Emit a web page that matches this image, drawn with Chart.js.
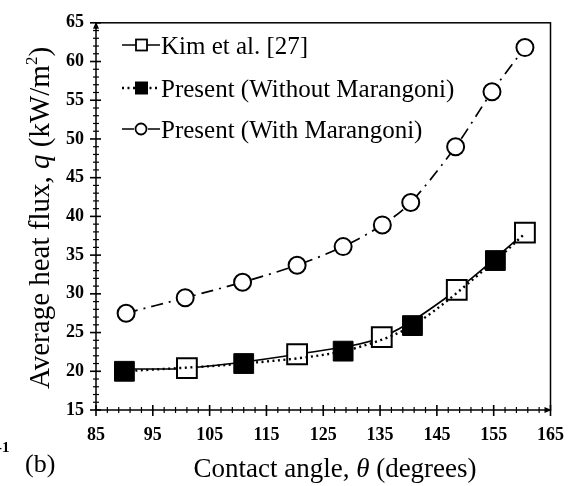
<!DOCTYPE html>
<html>
<head>
<meta charset="utf-8">
<script src="https://cdn.jsdelivr.net/npm/chart.js@4/dist/chart.umd.min.js"></script>
<style>
  html, body { margin: 0; padding: 0; background: #fff; }
  canvas { display: block; }
</style>
</head>
<body>
<canvas id="myChart" width="579" height="486"></canvas>
<script>
// datos
const kimX = [90, 101, 120.4, 135.3, 148.5, 160.5];
const kimY = [20.3, 20.4, 22.2, 24.4, 30.5, 37.9];

const sinMarX = [90, 111, 128.5, 140.7, 155.3, 160.5];
const sinMarY = [20.0, 21.0, 22.6, 25.9, 34.3, 37.8];

const conMarX = [90.3, 100.7, 110.8, 120.4, 128.5, 135.4, 140.4, 148.3, 154.7, 160.5];
const conMarY = [27.5, 29.5, 31.5, 33.7, 36.1, 38.9, 41.8, 49.0, 56.1, 61.8];

const xTicks = [85, 95, 105, 115, 125, 135, 145, 155, 165];
const yTicks = [15, 20, 25, 30, 35, 40, 45, 50, 55, 60, 65];

const etiquetas = ["Kim et al. [27]", "Present (Without Marangoni)", "Present (With Marangoni)"];

const SERIF = "'Liberation Serif', 'Times New Roman', serif";

function puntos(xs, ys) {
    return xs.map((x, i) => ({ x: x, y: ys[i] }));
}

// texto con partes de distinto estilo
function textoMixto(ctx, partes, x, y) {
    let total = 0;
    partes.forEach(p => { ctx.font = p.font; total += ctx.measureText(p.t).width; });
    let cx = x - total / 2;
    partes.forEach(p => {
        ctx.font = p.font;
        ctx.fillText(p.t, cx, y + (p.dy || 0));
        cx += ctx.measureText(p.t).width;
    });
}

const extras = {
    id: "extras",
    beforeDatasetsDraw(chart) {
        const ctx = chart.ctx;
        const a = chart.chartArea;
        const sx = chart.scales.x;
        const sy = chart.scales.y;
        ctx.save();
        ctx.strokeStyle = "#000";
        ctx.lineWidth = 1.5;
        // marco
        ctx.strokeRect(a.left, a.top, a.right - a.left, a.bottom - a.top);

        // ticks eje x
        for (let v = 85; v <= 165; v += 2) {
            const px = sx.getPixelForValue(v);
            const mayor = (v - 85) % 10 === 0;
            ctx.beginPath();
            ctx.lineWidth = mayor ? 1.6 : 1.2;
            ctx.moveTo(px, a.bottom - (mayor ? 5 : 3));
            ctx.lineTo(px, a.bottom + (mayor ? 6 : 3));
            ctx.stroke();
        }
        // ticks eje y
        for (let v = 15; v <= 65; v += 1) {
            const py = sy.getPixelForValue(v);
            const mayor = v % 5 === 0;
            ctx.beginPath();
            ctx.lineWidth = mayor ? 1.6 : 1.2;
            ctx.moveTo(a.left - (mayor ? 6 : 3), py);
            ctx.lineTo(a.left + (mayor ? 5 : 3), py);
            ctx.stroke();
        }
        // flechas
        ctx.fillStyle = "#000";
        ctx.beginPath();
        ctx.moveTo(a.right + 1, a.bottom);
        ctx.lineTo(a.right - 6, a.bottom - 3);
        ctx.lineTo(a.right - 6, a.bottom + 3);
        ctx.closePath();
        ctx.fill();
        ctx.beginPath();
        ctx.moveTo(a.left, a.top - 1);
        ctx.lineTo(a.left - 3, a.top + 6);
        ctx.lineTo(a.left + 3, a.top + 6);
        ctx.closePath();
        ctx.fill();
        ctx.restore();
    },
    afterDraw(chart) {
        const ctx = chart.ctx;
        ctx.save();
        ctx.fillStyle = "#000";
        ctx.strokeStyle = "#000";
        ctx.textBaseline = "alphabetic";

        // leyenda
        const filas = [45, 88, 129];
        const estilos = chart.data.datasets;
        filas.forEach((fy, i) => {
            const ds = estilos[i];
            ctx.beginPath();
            ctx.lineWidth = ds.borderWidth;
            ctx.setLineDash(ds.borderDash || []);
            ctx.moveTo(122, fy);
            ctx.lineTo(160, fy);
            ctx.stroke();
            ctx.setLineDash([]);
            ctx.lineWidth = 1.8;
            if (i === 0) {
                ctx.fillStyle = "#fff";
                ctx.fillRect(136, fy - 5.5, 11, 11);
                ctx.strokeRect(136, fy - 5.5, 11, 11);
            } else if (i === 1) {
                ctx.fillStyle = "#000";
                ctx.fillRect(135, fy - 6.5, 13, 13);
            } else {
                ctx.fillStyle = "#fff";
                ctx.beginPath();
                ctx.arc(141, fy, 5.5, 0, Math.PI * 2);
                ctx.fill();
                ctx.stroke();
            }
            ctx.fillStyle = "#000";
            ctx.font = "25px " + SERIF;
            ctx.textAlign = "left";
            ctx.fillText(etiquetas[i], 161, fy + 9);
        });

        // titulos de ejes
        ctx.textAlign = "left";
        const reg = "27px " + SERIF;
        const ita = "italic 27px " + SERIF;
        textoMixto(ctx, [
            { t: "Contact angle, ", font: reg },
            { t: "\u03B8", font: ita },
            { t: " (degrees)", font: reg }
        ], 335, 477);

        const regY = "29px " + SERIF;
        const itaY = "italic 29px " + SERIF;
        ctx.save();
        ctx.translate(49, 218);
        ctx.rotate(-Math.PI / 2);
        textoMixto(ctx, [
            { t: "Average heat flux, ", font: regY },
            { t: "q", font: itaY },
            { t: " (kW/m", font: regY },
            { t: "2", font: "17px " + SERIF, dy: -12 },
            { t: ")", font: regY }
        ], 0, 0);
        ctx.restore();

        ctx.font = "26px " + SERIF;
        ctx.fillText("(b)", 25, 472);
        ctx.font = "bold 15px " + SERIF;
        ctx.fillText("-1", -3, 452);
        ctx.restore();
    }
};

const data = {
    datasets: [
        {
            label: etiquetas[0],
            data: puntos(kimX, kimY),
            borderColor: "#000",
            borderWidth: 1.6,
            backgroundColor: "#fff",
            pointStyle: "rect",
            pointRadius: [0, 14, 14, 14, 14, 14],
            pointBorderWidth: 2,
            pointBackgroundColor: "#fff",
            pointBorderColor: "#000",
            tension: 0.3,
            order: 2
        },
        {
            label: etiquetas[1],
            data: puntos(sinMarX, sinMarY),
            borderColor: "#000",
            borderWidth: 2.4,
            borderDash: [2, 3.5],
            pointStyle: "rect",
            pointRadius: [14, 14, 14, 14, 14, 0],
            pointBorderWidth: 1,
            pointBackgroundColor: "#000",
            pointBorderColor: "#000",
            tension: 0.3,
            order: 1
        },
        {
            label: etiquetas[2],
            data: puntos(conMarX, conMarY),
            borderColor: "#000",
            borderWidth: 1.7,
            borderDash: [12, 6, 2, 6],
            pointStyle: "circle",
            pointRadius: 8.5,
            pointBorderWidth: 2,
            pointBackgroundColor: "#fff",
            pointBorderColor: "#000",
            tension: 0.3,
            order: 3
        }
    ]
};

const config = {
    type: "line",
    data,
    options: {
        responsive: false,
        animation: false,
        events: [],
        layout: { padding: { left: 0, top: 20, right: 21, bottom: 0 } },
        plugins: { legend: { display: false }, tooltip: { enabled: false } },
        scales: {
            x: {
                type: "linear",
                min: 85,
                max: 165,
                afterFit(scale) { scale.height = 76; },
                afterBuildTicks(scale) { scale.ticks = xTicks.map(v => ({ value: v })); },
                grid: { display: false, drawTicks: false },
                border: { display: false },
                ticks: {
                    padding: 15,
                    color: "#000",
                    font: { family: SERIF, size: 18, weight: "bold" }
                }
            },
            y: {
                min: 15,
                max: 65,
                afterFit(scale) { scale.width = 96; },
                afterBuildTicks(scale) { scale.ticks = yTicks.map(v => ({ value: v })); },
                grid: { display: false, drawTicks: false },
                border: { display: false },
                ticks: {
                    padding: 12,
                    color: "#000",
                    font: { family: SERIF, size: 18, weight: "bold" }
                }
            }
        }
    },
    plugins: [extras]
};

new Chart(document.getElementById("myChart"), config);
</script>
</body>
</html>
